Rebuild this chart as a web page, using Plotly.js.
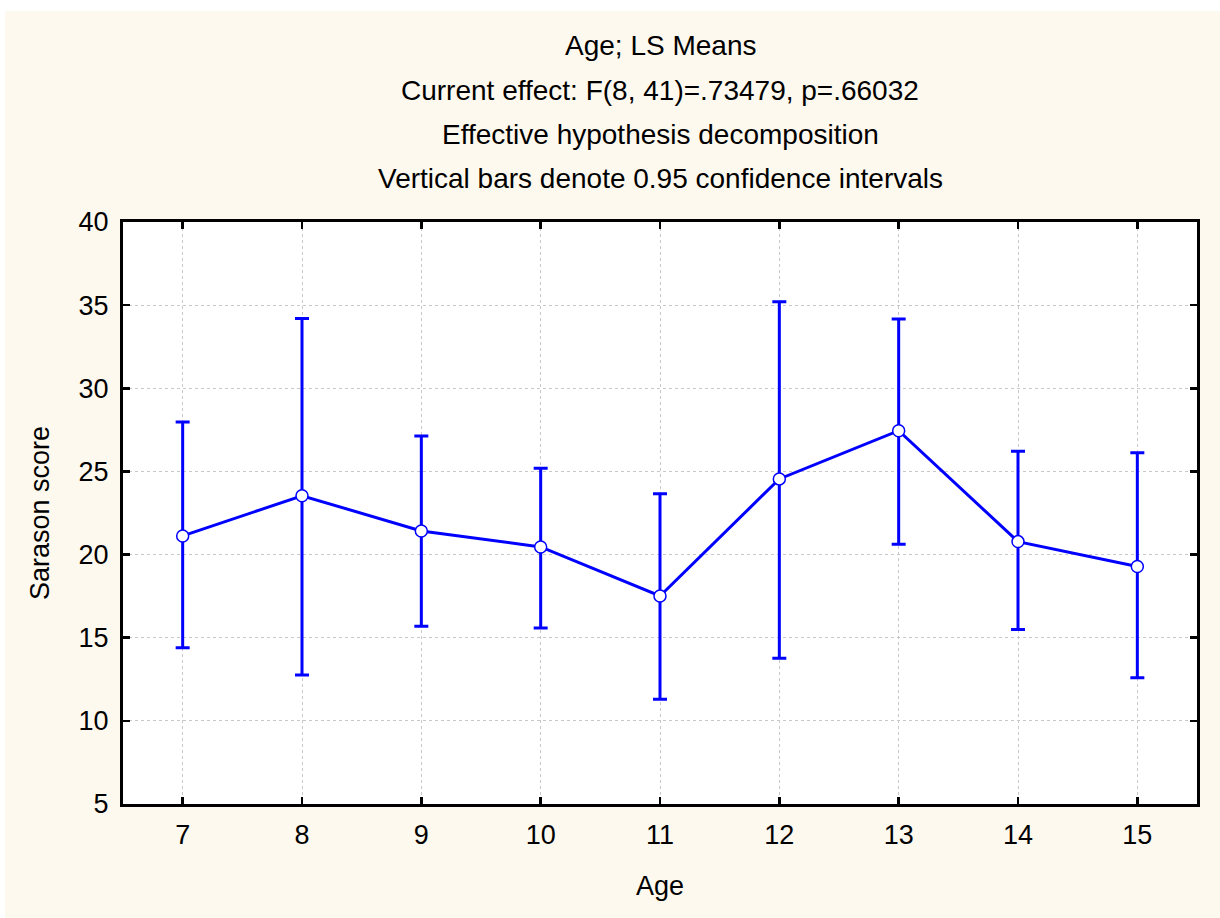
<!DOCTYPE html>
<html>
<head>
<meta charset="utf-8">
<script src="https://cdn.plot.ly/plotly-3.0.1.min.js"></script>
<style>
  html, body { margin: 0; padding: 0; background: #ffffff; }
  #chart { position: absolute; left: 5px; top: 11px; width: 1215px; height: 907px; }
</style>
</head>
<body>
<div id="chart"></div>
<script>
// Data
const ages = [7, 8, 9, 10, 11, 12, 13, 14, 15];
const lsMeans = [21.12, 23.54, 21.42, 20.46, 17.51, 24.55, 27.45, 20.78, 19.28];
const upperCI = [27.97, 34.20, 27.13, 25.19, 23.66, 35.21, 34.17, 26.21, 26.13];
const lowerCI = [14.40, 12.76, 15.69, 15.59, 11.30, 13.76, 20.62, 15.50, 12.59];
const yTicks = [5, 10, 15, 20, 25, 30, 35, 40];
const titleLines = [
  "Age; LS Means",
  "Current effect: F(8, 41)=.73479, p=.66032",
  "Effective hypothesis decomposition",
  "Vertical bars denote 0.95 confidence intervals"
];

const errPlus = lsMeans.map((m, i) => upperCI[i] - m);
const errMinus = lsMeans.map((m, i) => m - lowerCI[i]);

const FONT = "Liberation Sans, Arial, sans-serif";
const BLUE = "#0000ff";

const trace = {
  x: ages,
  y: lsMeans,
  type: "scatter",
  mode: "lines+markers",
  line: { color: BLUE, width: 3 },
  marker: { size: 12, color: "#ffffff", line: { color: BLUE, width: 1.5 } },
  error_y: {
    type: "data",
    symmetric: false,
    array: errPlus,
    arrayminus: errMinus,
    color: BLUE,
    thickness: 3,
    width: 7
  },
  showlegend: false,
  hoverinfo: "x+y"
};

const titleY = [46, 91, 134, 178];
const annotations = titleLines.map((t, i) => ({
  text: t,
  xref: "paper",
  yref: "paper",
  x: 0.5,
  y: 1 + (211 - (titleY[i] - 11)) / 582,
  xanchor: "center",
  yanchor: "middle",
  showarrow: false,
  font: { family: FONT, size: 28, color: "#000000" }
}));

const axisCommon = {
  showline: true,
  linecolor: "#000000",
  linewidth: 3,
  mirror: "ticks",
  ticks: "inside",
  ticklen: 7,
  tickwidth: 2.5,
  tickcolor: "#000000",
  showgrid: true,
  gridcolor: "#c8c8c8",
  gridwidth: 1,
  griddash: "3px,3px",
  zeroline: false,
  tickfont: { family: FONT, size: 27, color: "#000000" }
};

const layout = {
  width: 1215,
  height: 907,
  paper_bgcolor: "#fef9ee",
  plot_bgcolor: "#ffffff",
  margin: { l: 118, r: 23, t: 211, b: 114, pad: 0 },
  showlegend: false,
  annotations: annotations,
  xaxis: Object.assign({}, axisCommon, {
    range: [6.5, 15.5],
    tickmode: "array",
    tickvals: ages,
    ticktext: ages.map(String),
    ticklabelstandoff: 5,
    title: { text: "Age", font: { family: FONT, size: 27, color: "#000000" }, standoff: 27 }
  }),
  yaxis: Object.assign({}, axisCommon, {
    range: [5, 40],
    tickmode: "array",
    tickvals: yTicks,
    ticktext: yTicks.map(String),
    ticklabelstandoff: 6,
    title: { text: "Sarason score", font: { family: FONT, size: 27, color: "#000000" }, standoff: 22 }
  })
};

Plotly.newPlot("chart", [trace], layout, { displayModeBar: false, staticPlot: true });
</script>
</body>
</html>
